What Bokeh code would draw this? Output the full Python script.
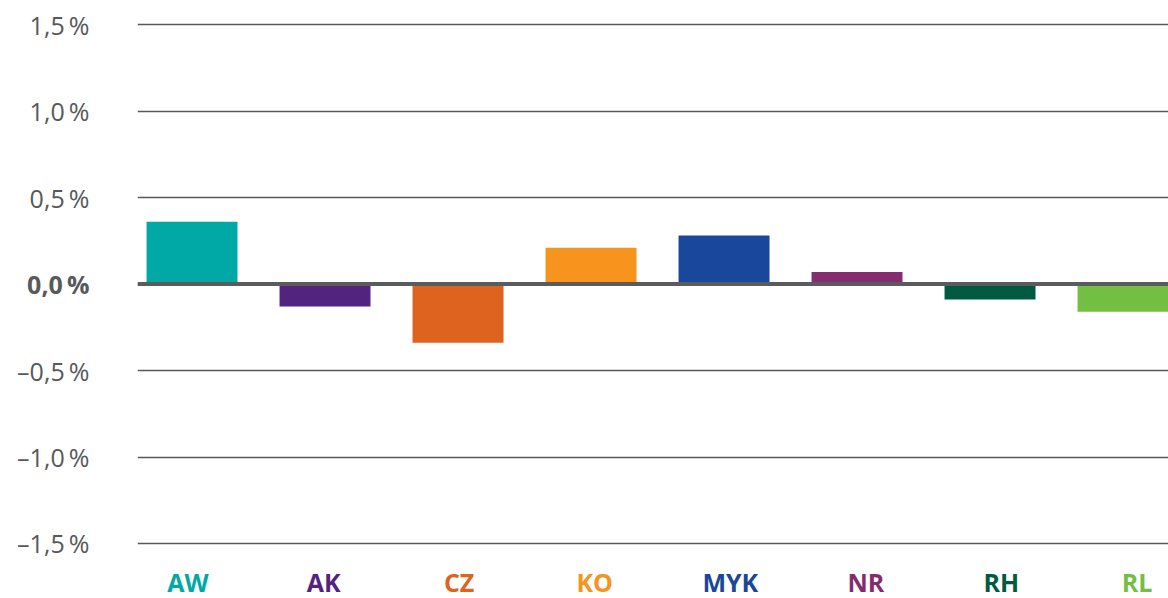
from bokeh.plotting import figure
from bokeh.models import ColumnDataSource, FixedTicker, Range1d, Span, Grid
from bokeh.layouts import row
from bokeh.core.properties import value
from bokeh.embed import file_html
from bokeh.resources import INLINE

categories = ["AW", "AK", "CZ", "KO", "MYK", "NR", "RH", "RL"]
values = [0.36, -0.13, -0.34, 0.21, 0.28, 0.07, -0.09, -0.16]
colors = ["#00a9a5", "#52247f", "#dd631e", "#f7941d", "#19479c", "#852c70", "#005a40", "#72bf44"]
y_ticks = [-1.5, -1.0, -0.5, 0.0, 0.5, 1.0, 1.5]
y_tick_labels = ["\u20131,5\u2009%", "\u20131,0\u2009%", "\u20130,5\u2009%", "0,0\u2009%", "0,5\u2009%", "1,0\u2009%", "1,5\u2009%"]
y_label_weights = ["normal", "normal", "normal", "bold", "normal", "normal", "normal"]

GRID = "#58595b"
LEFT_W = 137
W, H = 1168, 598
x_start = -0.41
x_end = x_start + (W - LEFT_W) / 133.0
lab_start = -0.3725
lab_end = lab_start + (W - LEFT_W) / 135.57
y_start, y_end = -1.818, 1.639
label_y = -1.725

yrange = Range1d(y_start, y_end)

# left panel: y tick labels
lp = figure(width=LEFT_W, height=H, output_backend="svg", toolbar_location=None,
            x_range=Range1d(0, 1), y_range=yrange,
            x_axis_location=None, y_axis_location=None,
            min_border=0)
lp.outline_line_color = None
lp.grid.visible = False
ysrc = ColumnDataSource(dict(y=y_ticks, txt=y_tick_labels, fw=y_label_weights, x=[1] * len(y_ticks)))
lp.text(x="x", y="y", text="txt", source=ysrc, x_offset=-48, text_align="right",
        text_baseline="middle", text_font=value("Open Sans"), text_font_size="25px",
        text_font_style="fw", text_color=GRID)

# main panel
src = ColumnDataSource(dict(
    x=list(range(len(categories))),
    top=values,
    color=colors,
    cat=categories,
    ly=[label_y] * len(categories),
))

p = figure(width=W - LEFT_W, height=H, output_backend="svg", toolbar_location=None,
           x_range=Range1d(x_start, x_end), y_range=yrange,
           x_axis_location=None, y_axis_location=None, min_border=0)
p.extra_x_ranges = {"lab": Range1d(lab_start, lab_end)}
p.outline_line_color = None
p.grid.visible = False
p.add_layout(Grid(dimension=1, ticker=FixedTicker(ticks=y_ticks),
                  grid_line_color=GRID, grid_line_width=1.3))

p.vbar(x="x", top="top", bottom=0, width=0.684, color="color", source=src, line_color=None)

p.add_layout(Span(location=0, dimension="width", line_color="#5a5b5d", line_width=4))

p.text(x="x", y="ly", text="cat", source=src, x_range_name="lab", text_align="center",
       text_baseline="middle", text_color="color", text_font=value("Open Sans"),
       text_font_style="bold", text_font_size="25px")

layout = row(lp, p, spacing=0)
open("out.html", "w").write(file_html(layout, INLINE))
